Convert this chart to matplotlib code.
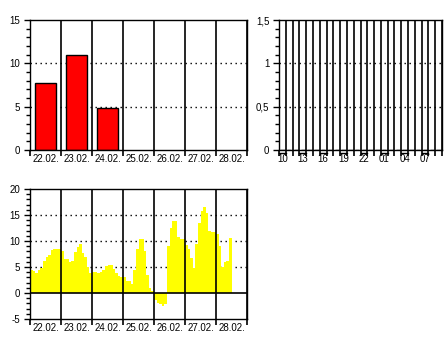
"""
Three small weather panels: daily bars, hourly bars (empty) and a 2-hourly series.
Saves out.png (446x340).
"""

import matplotlib.pyplot as plt
from matplotlib.ticker import FixedLocator, MultipleLocator, NullFormatter
import matplotlib.transforms as mtransforms

plt.rcParams["font.family"] = ["Liberation Sans", "DejaVu Sans"]
plt.rcParams["font.size"] = 7

# --- data ---
day_labels = ["22.02.", "23.02.", "24.02.", "25.02.", "26.02.", "27.02.", "28.02."]
daily_vals = [7.7, 11.0, 4.8]  # only the first three days have a value

hour_labels = ["10", "13", "16", "19", "22", "01", "04", "07"]
hourly_vals = [0, 0, 0, 0, 0, 0, 0, 0, 0, 0, 0, 0,
               0, 0, 0, 0, 0, 0, 0, 0, 0, 0, 0, 0]

# two-hour steps, 12 per day, starting 22.02. 00:00
series_vals = [
    4.5, 4.2, 3.8, 4.4, 4.8, 6.2, 6.9, 7.4, 8.2, 8.5, 8.5, 8.5,        # 22.02.
    8.0, 6.6, 6.6, 5.9, 6.1, 7.8, 8.8, 9.4, 7.7, 7.0, 5.0, 3.9,        # 23.02.
    4.1, 4.1, 3.9, 4.0, 4.5, 5.1, 5.4, 5.3, 4.6, 3.8, 3.2, 3.1,        # 24.02.
    3.0, 2.4, 2.3, 1.8, 4.5, 8.5, 10.3, 10.3, 8.0, 3.5, 1.0, 0.3,      # 25.02.
    -1.3, -1.9, -2.1, -2.5, -2.2, 9.0, 12.5, 13.9, 13.8, 10.7, 10.4, 10.3,  # 26.02.
    9.2, 8.5, 6.8, 4.8, 9.5, 13.5, 15.7, 16.5, 15.3, 12.0, 11.7, 11.7,      # 27.02.
    11.4, 9.0, 5.0, 6.0, 6.1, 10.6,                                     # 28.02.
]
STEP = 1 / 12  # two hours as a fraction of a day

DOT = (0, (1, 2.6))


def style_axes(ax, n_cols, ymin, ymax, ymajor, yminor, hgrid, labels, label_pos):
    ax.set_xlim(0, n_cols)
    ax.set_ylim(ymin, ymax)
    for s in ax.spines.values():
        s.set_linewidth(1.0)
        s.set_color("black")
    # solid vertical lines at every column boundary, also used as ticks
    for i in range(n_cols + 1):
        ax.axvline(i, color="black", lw=1.2, zorder=3)
    ax.xaxis.set_major_locator(FixedLocator(range(n_cols + 1)))
    ax.xaxis.set_major_formatter(NullFormatter())
    ax.xaxis.set_minor_locator(FixedLocator(label_pos))
    ax.set_xticks(label_pos, labels, minor=True)
    ax.tick_params(axis="x", which="major", direction="out", length=4, width=1.2)
    ax.tick_params(axis="x", which="minor", length=0, pad=3)
    ax.yaxis.set_major_locator(MultipleLocator(ymajor))
    ax.yaxis.set_minor_locator(MultipleLocator(yminor))
    ax.tick_params(axis="y", which="major", direction="out", length=4, width=1, pad=3)
    ax.tick_params(axis="y", which="minor", direction="out", length=3, width=1)
    for v in hgrid:
        ax.axhline(v, color="black", lw=1.0, linestyle=DOT, zorder=1)


fig = plt.figure(figsize=(4.46, 3.40), dpi=100)

# top left: daily bars
ax1 = fig.add_axes([30 / 446, 1 - 150 / 340, 217 / 446, 130 / 340])
day_pos = [i + 0.5 for i in range(len(day_labels))]
style_axes(ax1, len(day_labels), 0, 15, 5, 1, [5, 10], day_labels, day_pos)
ax1.bar(day_pos[:len(daily_vals)], daily_vals, width=0.65, color="#ff0000",
        edgecolor="black", linewidth=1.0, zorder=2)
ax1.set_yticks([0, 5, 10, 15], ["0", "5", "10", "15"])

# top right: hourly bars (all zero)
ax2 = fig.add_axes([279 / 446, 1 - 150 / 340, 163 / 446, 130 / 340])
hour_pos = [i * 3 + 0.5 for i in range(len(hour_labels))]
style_axes(ax2, len(hourly_vals), 0, 1.5, 0.5, 0.1, [0.5, 1.0], hour_labels, hour_pos)
ax2.bar([i + 0.5 for i in range(len(hourly_vals))], hourly_vals, width=0.65,
        color="#ff0000", edgecolor="black", linewidth=1.0, zorder=2)
ax2.set_yticks([0, 0.5, 1.0, 1.5], ["0", "0,5", "1", "1,5"])
trans = mtransforms.blended_transform_factory(ax2.transData, ax2.transAxes)
for p in hour_pos:
    ax2.plot([p - 0.5, p + 0.5], [-0.025, -0.025], color="black", lw=1.0,
             transform=trans, clip_on=False)

# bottom: 2-hourly series
ax3 = fig.add_axes([30 / 446, 1 - 319 / 340, 217 / 446, 130 / 340])
style_axes(ax3, len(day_labels), -5, 20, 5, 1, [5, 10, 15], day_labels, day_pos)
xs = [i * STEP for i in range(len(series_vals) + 1)]
ys = series_vals + [series_vals[-1]]
ax3.fill_between(xs, 0, ys, step="post", color="#ffff00", linewidth=0, zorder=2)
ax3.axhline(0, color="black", lw=1.2, zorder=3)
ax3.set_yticks([-5, 0, 5, 10, 15, 20], ["-5", "0", "5", "10", "15", "20"])

fig.savefig("out.png", dpi=100)
